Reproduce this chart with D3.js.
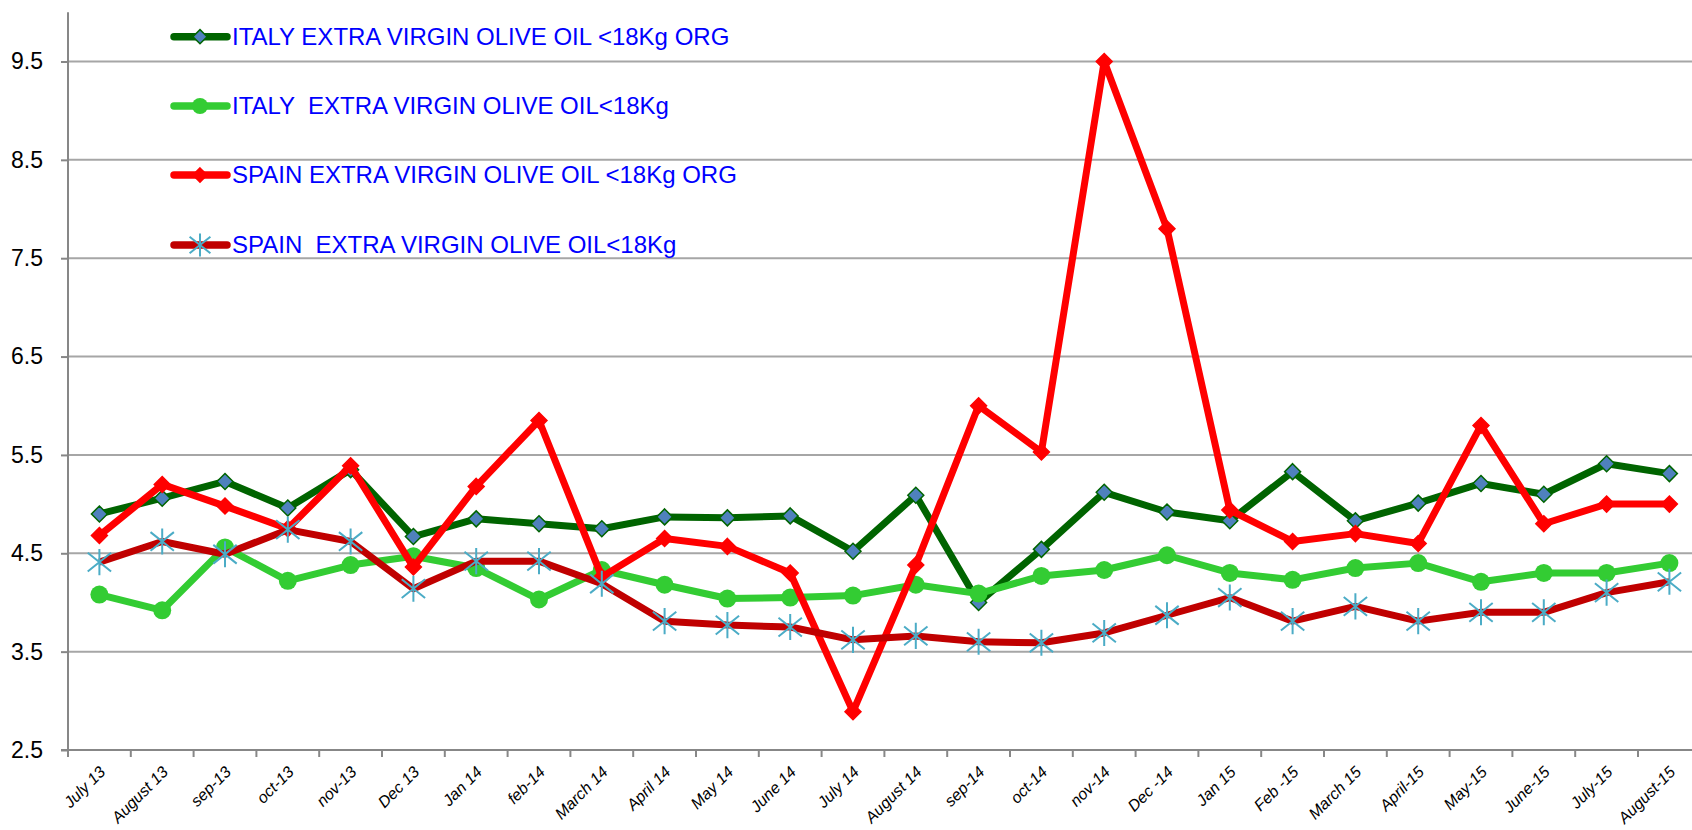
<!DOCTYPE html>
<html lang="en">
<head>
  <meta charset="utf-8">
  <title>Olive oil prices</title>
  <script src="https://cdn.jsdelivr.net/npm/d3@7"></script>
  <style>
    body { margin: 0; background: #fff; }
    svg { display: block; }
  </style>
</head>
<body>
  <svg class="chart"></svg>
</body>
<script>
  // data
  var months = ["July 13", "August 13", "sep-13", "oct-13", "nov-13", "Dec 13", "Jan 14", "feb-14",
    "March 14", "April 14", "May 14", "June 14", "July 14", "August 14", "sep-14", "oct-14", "nov-14",
    "Dec -14", "Jan 15", "Feb -15", "March 15", "April-15", "May-15", "June-15", "July-15", "August-15"];

  var italyOrg = [4.90, 5.06, 5.23, 4.96, 5.35, 4.67, 4.85, 4.80, 4.75, 4.87, 4.86, 4.88, 4.52,
    5.09, 4.00, 4.54, 5.12, 4.92, 4.83, 5.33, 4.83, 5.01, 5.21, 5.10, 5.41, 5.31];
  var italy = [4.08, 3.92, 4.56, 4.22, 4.38, 4.47, 4.35, 4.03, 4.33, 4.18, 4.04, 4.05, 4.07,
    4.18, 4.09, 4.27, 4.33, 4.48, 4.30, 4.23, 4.35, 4.40, 4.21, 4.30, 4.30, 4.40];
  var spainOrg = [4.68, 5.20, 4.98, 4.75, 5.39, 4.36, 5.18, 5.85, 4.26, 4.65, 4.57, 4.30, 2.89,
    4.38, 6.00, 5.53, 9.50, 7.80, 4.94, 4.62, 4.70, 4.60, 5.80, 4.80, 5.00, 5.00];
  var spain = [4.41, 4.62, 4.49, 4.74, 4.62, 4.14, 4.42, 4.42, 4.19, 3.81, 3.77, 3.75, 3.62,
    3.66, 3.60, 3.59, 3.69, 3.87, 4.05, 3.81, 3.96, 3.81, 3.90, 3.90, 4.10, 4.21];

  var yTicks = [2.5, 3.5, 4.5, 5.5, 6.5, 7.5, 8.5, 9.5];

  var seriesNames = ["ITALY EXTRA VIRGIN OLIVE OIL <18Kg ORG", "ITALY  EXTRA VIRGIN OLIVE OIL<18Kg",
    "SPAIN EXTRA VIRGIN OLIVE OIL <18Kg ORG", "SPAIN  EXTRA VIRGIN OLIVE OIL<18Kg"];

  var series = [
    { name: seriesNames[0], values: italyOrg, color: "#006400", marker: "diamond", fill: "#4f81bd" },
    { name: seriesNames[1], values: italy, color: "#33cc33", marker: "circle", fill: "#33cc33" },
    { name: seriesNames[2], values: spainOrg, color: "#ff0000", marker: "diamond", fill: "#ff0000" },
    { name: seriesNames[3], values: spain, color: "#c00000", marker: "star", fill: "none" }
  ];

  // sizes
  var W = 1692, H = 830,
    plotLeft = 68, plotTop = 12.3, plotBottom = 750,
    bandW = 62.8;

  var svg = d3.select(".chart").attr("width", W).attr("height", H);

  var x = d3.scaleBand().domain(months).range([plotLeft, plotLeft + bandW * months.length]).padding(0);
  var y = d3.scaleLinear().domain([2.5, 10]).range([plotBottom, plotTop]);
  var font = "'Liberation Sans', Arial, sans-serif";

  // gridlines
  svg.append("g").selectAll("line")
    .data(yTicks.slice(1))
    .enter().append("line")
    .attr("x1", plotLeft).attr("x2", W)
    .attr("y1", d => y(d)).attr("y2", d => y(d))
    .style("stroke", "#a6a6a6").style("stroke-width", 2);

  // y axis
  var yAxis = svg.append("g")
    .attr("transform", "translate(" + plotLeft + ",0)")
    .call(d3.axisLeft(y).tickValues(yTicks).tickSize(7).tickPadding(18).tickFormat(d3.format(".1f")));
  yAxis.select(".domain").attr("d", "M0," + plotTop + "V" + plotBottom);
  yAxis.selectAll("line, .domain").style("stroke", "#878787").style("stroke-width", 2);
  yAxis.selectAll("text").style("font-family", font).style("font-size", "23px").style("fill", "#000");

  // x axis
  var boundaries = months.map(m => x(m)).concat([x(months[months.length - 1]) + bandW]);
  var xAxis = svg.append("g").attr("transform", "translate(0," + plotBottom + ")");
  xAxis.append("line").attr("x1", plotLeft - 7).attr("x2", W).attr("y1", 0).attr("y2", 0)
    .style("stroke", "#878787").style("stroke-width", 2);
  xAxis.selectAll(".tick").data(boundaries).enter().append("line")
    .attr("x1", d => d).attr("x2", d => d).attr("y1", 0).attr("y2", 7)
    .style("stroke", "#878787").style("stroke-width", 2);
  xAxis.selectAll(".lbl").data(months).enter().append("text")
    .attr("transform", d => "translate(" + (x(d) + x.bandwidth() / 2 + 3) + ",19) rotate(-45)")
    .attr("text-anchor", "end")
    .attr("dy", "0.35em")
    .style("font-family", font).style("font-style", "italic").style("font-size", "16px")
    .style("fill", "#000")
    .text(d => d);

  // markers
  function drawMarker(g, type, color, fill, size) {
    if (type === "diamond") {
      g.append("path").attr("d", d3.symbol(d3.symbolDiamond2, size * size * 2)())
        .style("fill", fill).style("stroke", color).style("stroke-width", 1.5);
    } else if (type === "circle") {
      g.append("circle").attr("r", size).style("fill", fill);
    } else {
      var r = size * 1.3;
      var v = size * 1.45;
      g.append("path")
        .attr("d", "M" + (-r) + "," + (-r * 0.8) + "L" + r + "," + (r * 0.8) +
          "M" + (-r) + "," + (r * 0.8) + "L" + r + "," + (-r * 0.8) +
          "M0," + (-v) + "V" + v)
        .style("stroke", "#4bacc6").style("stroke-width", 2).style("fill", "none");
    }
  }

  var line = d3.line().x((d, i) => x(months[i]) + x.bandwidth() / 2).y(d => y(d));

  series.forEach(function (s) {
    var g = svg.append("g");
    g.append("path").datum(s.values).attr("d", line)
      .style("fill", "none").style("stroke", s.color).style("stroke-width", 7)
      .style("stroke-linejoin", "round");
    g.selectAll("g").data(s.values).enter().append("g")
      .attr("transform", (d, i) => "translate(" + (x(months[i]) + x.bandwidth() / 2) + "," + y(d) + ")")
      .each(function () {
        drawMarker(d3.select(this), s.marker, s.color, s.fill, 9);
      });
  });

  // legend
  var legendY = [36.7, 106, 175, 245];
  var legend = svg.append("g").selectAll("g").data(series).enter().append("g")
    .attr("transform", (d, i) => "translate(0," + legendY[i] + ")");
  legend.append("line").attr("x1", 174).attr("x2", 227).attr("y1", 0).attr("y2", 0)
    .style("stroke", d => d.color).style("stroke-width", 7.5).style("stroke-linecap", "round");
  legend.each(function (d) {
    var m = d3.select(this).append("g").attr("transform", "translate(200,0)");
    drawMarker(m, d.marker, d.color, d.fill, 8);
  });
  legend.append("text").attr("x", 232).attr("dy", "0.35em")
    .attr("xml:space", "preserve").style("white-space", "pre")
    .style("font-family", font).style("font-size", "24px").style("fill", "#0000ff")
    .text(d => d.name);
</script>
</html>
